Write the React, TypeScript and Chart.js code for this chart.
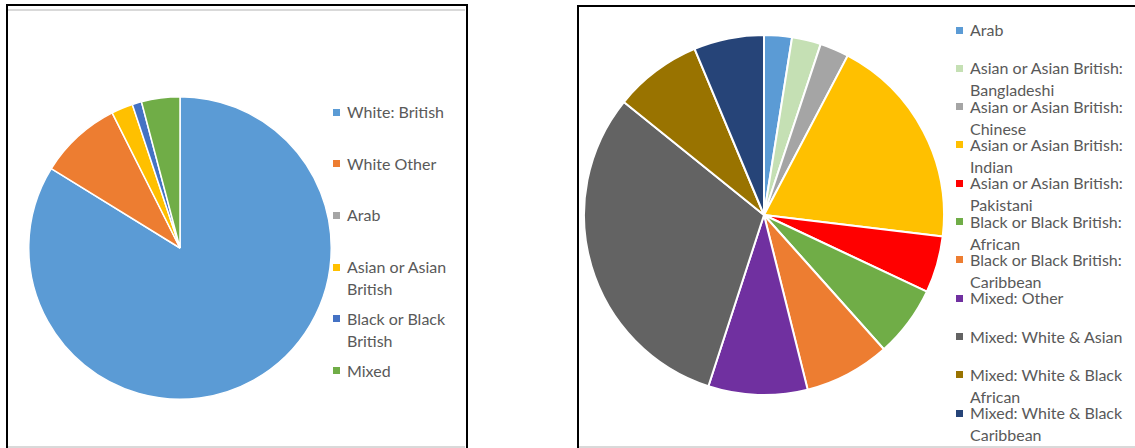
import { useEffect, useRef } from 'react';
import { Chart, registerables } from 'chart.js';

Chart.register(...registerables);

// left chart: overall ethnic groups (% share)
const groupLabels = [
  'White: British',
  'White Other',
  'Arab',
  'Asian or Asian British',
  'Black or Black British',
  'Mixed',
];
const groupValues = [83.8, 8.8, 0, 2.3, 1.0, 4.1];
const groupColors = ['#5B9BD5', '#ED7D31', '#A5A5A5', '#FFC000', '#4472C4', '#70AD47'];
// how the legend wraps each label
const groupLegendLines = [
  ['White: British'],
  ['White Other'],
  ['Arab'],
  ['Asian or Asian', 'British'],
  ['Black or Black', 'British'],
  ['Mixed'],
];

// right chart: minority groups breakdown (% share)
const minorityLabels = [
  'Arab',
  'Asian or Asian British: Bangladeshi',
  'Asian or Asian British: Chinese',
  'Asian or Asian British: Indian',
  'Asian or Asian British: Pakistani',
  'Black or Black British: African',
  'Black or Black British: Caribbean',
  'Mixed: Other',
  'Mixed: White & Asian',
  'Mixed: White & Black African',
  'Mixed: White & Black Caribbean',
];
const minorityValues = [2.5, 2.6, 2.6, 19.2, 5.1, 6.4, 7.7, 8.9, 30.8, 7.9, 6.3];
const minorityColors = [
  '#5B9BD5',
  '#C5E0B4',
  '#A5A5A5',
  '#FFC000',
  '#FF0000',
  '#70AD47',
  '#ED7D31',
  '#7030A0',
  '#636363',
  '#997300',
  '#264478',
];
const minorityLegendLines = [
  ['Arab'],
  ['Asian or Asian British:', 'Bangladeshi'],
  ['Asian or Asian British:', 'Chinese'],
  ['Asian or Asian British:', 'Indian'],
  ['Asian or Asian British:', 'Pakistani'],
  ['Black or Black British:', 'African'],
  ['Black or Black British:', 'Caribbean'],
  ['Mixed: Other'],
  ['Mixed: White & Asian'],
  ['Mixed: White & Black', 'African'],
  ['Mixed: White & Black', 'Caribbean'],
];

const FONT = "Lato, 'Noto Sans', sans-serif";

function PieCanvas({ labels, values, colors, border, style }: {
  labels: string[];
  values: number[];
  colors: string[];
  border: number;
  style: React.CSSProperties;
}) {
  const canvasRef = useRef<HTMLCanvasElement>(null);
  const chartRef = useRef<Chart | null>(null);

  useEffect(() => {
    if (!canvasRef.current) return;
    if (chartRef.current) chartRef.current.destroy();
    chartRef.current = new Chart(canvasRef.current, {
      type: 'pie',
      data: {
        labels,
        datasets: [
          {
            data: values,
            backgroundColor: colors,
            borderColor: '#ffffff',
            borderWidth: border,
          },
        ],
      },
      options: {
        animation: false,
        responsive: true,
        maintainAspectRatio: false,
        layout: { padding: 0 },
        plugins: {
          legend: { display: false },
          tooltip: { enabled: false },
        },
      },
    });
    return () => {
      if (chartRef.current) {
        chartRef.current.destroy();
        chartRef.current = null;
      }
    };
  }, [labels, values, colors, border]);

  return (
    <div style={{ position: 'absolute', ...style }}>
      <canvas ref={canvasRef}></canvas>
    </div>
  );
}

function Legend({ lines, colors, left, top, step }: {
  lines: string[][];
  colors: string[];
  left: number;
  top: number;
  step: number;
}) {
  return (
    <>
      {lines.map((l, i) => (
        <div
          key={i}
          style={{
            position: 'absolute',
            left,
            top: top + i * step - 11,
            font: `16px ${FONT}`,
            lineHeight: '22px',
            color: '#595959',
            whiteSpace: 'nowrap',
          }}
        >
          <span
            style={{
              position: 'absolute',
              left: 0,
              top: 7.5,
              width: 7,
              height: 7,
              background: colors[i],
            }}
          />
          <div style={{ marginLeft: 14 }}>
            {l.map((t, j) => (
              <div key={j}>{t}</div>
            ))}
          </div>
        </div>
      ))}
    </>
  );
}

export default function App() {
  return (
    <div
      style={{
        position: 'fixed',
        left: 0,
        top: 0,
        width: 1135,
        height: 448,
        background: '#fff',
        overflow: 'hidden',
      }}
    >
      {/* left chart frame */}
      <div
        style={{
          position: 'absolute',
          left: 6,
          top: 4,
          width: 462,
          height: 470,
          border: '2px solid #000',
          boxSizing: 'border-box',
        }}
      />
      <div style={{ position: 'absolute', left: 8, top: 9, width: 457, height: 2, background: '#D9D9D9' }} />
      <div style={{ position: 'absolute', left: 8, top: 446, width: 457, height: 2, background: '#D9D9D9' }} />
      <PieCanvas
        labels={groupLabels}
        values={groupValues}
        colors={groupColors}
        border={1.5}
        style={{ left: 28, top: 96, width: 304, height: 304 }}
      />
      <Legend lines={groupLegendLines} colors={groupColors} left={333} top={112} step={51.7} />

      {/* right chart frame */}
      <div
        style={{
          position: 'absolute',
          left: 577,
          top: 5,
          width: 600,
          height: 470,
          border: '2px solid #000',
          boxSizing: 'border-box',
        }}
      />
      <div style={{ position: 'absolute', left: 579, top: 446, width: 556, height: 2, background: '#D9D9D9' }} />
      <PieCanvas
        labels={minorityLabels}
        values={minorityValues}
        colors={minorityColors}
        border={2}
        style={{ left: 583, top: 34, width: 362, height: 362 }}
      />
      <Legend lines={minorityLegendLines} colors={minorityColors} left={956} top={30} step={38.33} />
    </div>
  );
}
